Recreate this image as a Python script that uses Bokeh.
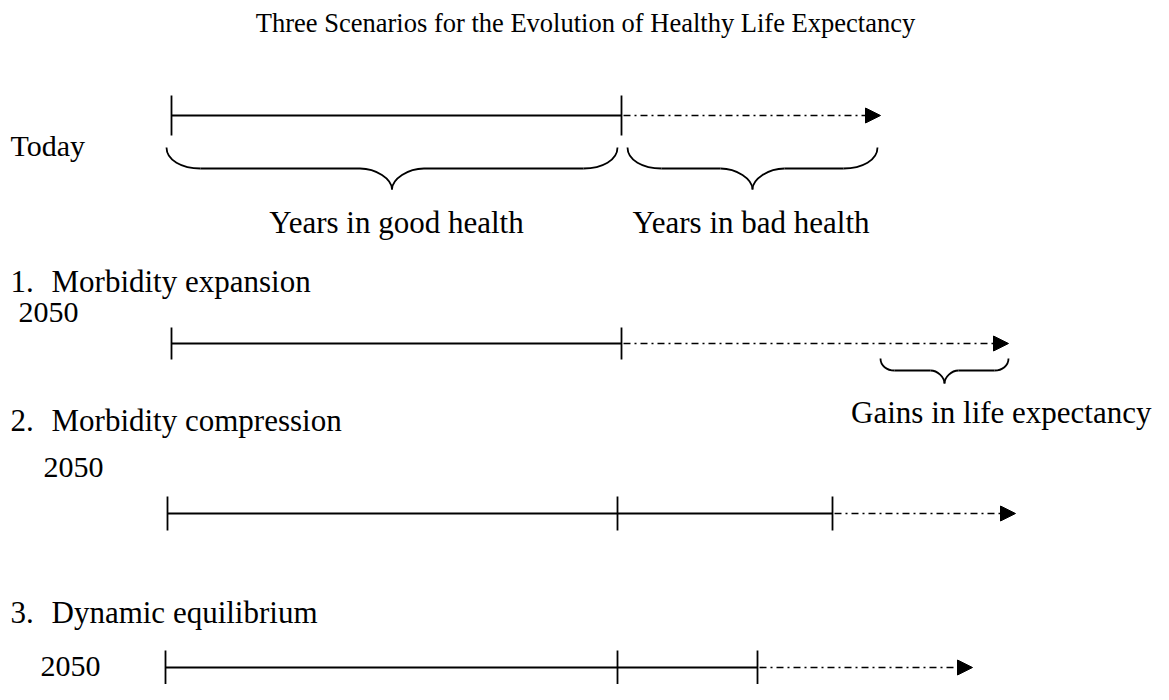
from bokeh.plotting import figure
from bokeh.models import Range1d, Arrow, NormalHead, ColumnDataSource
from bokeh.core.properties import value
from bokeh.embed import file_html
from bokeh.resources import INLINE

# ---- data (schematic units, 0 = birth) ----
title = "Three Scenarios for the Evolution of Healthy Life Expectancy"
row_tags = ["Today", "2050", "2050", "2050"]
line_start = [0, 0, -4, -6]
healthy_today = [450, 450, 446, 446]
healthy_end = [450, 450, 661, 586]
life_end = [709, 837, 844, 801]
scenario_nums = ["1.", "2.", "3."]
scenario_names = ["Morbidity expansion", "Morbidity compression", "Dynamic equilibrium"]
brace_labels = ["Years in good health", "Years in bad health", "Gains in life expectancy"]

# ---- layout ----
W, H = 1153, 684
ORIGIN = 171  # picture x of schematic 0
row_y = [115, 343, 513, 667]
tick_half = [20, 16, 17, 17]

p = figure(width=W, height=H, output_backend="svg", toolbar_location=None,
           x_range=Range1d(-ORIGIN, W - ORIGIN), y_range=Range1d(H, 0),
           min_border=0, outline_line_color=None)
p.xaxis.visible = False
p.yaxis.visible = False
p.xgrid.visible = False
p.ygrid.visible = False
p.background_fill_color = "white"
p.border_fill_color = "white"

FONT = value("Liberation Serif")
LW = 1.8

def txt(x, y, s, size, align="left"):
    p.text(x=[x], y=[y], text=[s], text_font=FONT, text_font_size=f"{size}px",
           text_align=align, text_baseline="middle", text_color="black")

txt(585 - ORIGIN, 22, title, 26.5, "center")

# ---- timelines ----
for i in range(4):
    y = row_y[i]
    s, ht, he, le = line_start[i], healthy_today[i], healthy_end[i], life_end[i]
    p.line([s, he], [y, y], line_color="black", line_width=LW)
    ticks = sorted(set([s, ht, he]))
    p.segment(x0=ticks, y0=[y - tick_half[i]] * len(ticks),
              x1=ticks, y1=[y + tick_half[i]] * len(ticks),
              line_color="black", line_width=LW)
    src = ColumnDataSource(dict(xs=[he + 2], ys=[y], xe=[le], ye=[y]))
    p.add_layout(Arrow(end=NormalHead(size=15, fill_color="black", line_color="black", line_width=1),
                       x_start="xs", y_start="ys", x_end="xe", y_end="ye", source=src,
                       line_color="black", line_width=1.6, line_dash="7 4 2 4"))

# ---- braces ----
bz = dict(x0=[], y0=[], x1=[], y1=[], cx0=[], cy0=[], cx1=[], cy1=[])
segs = dict(x0=[], y0=[], x1=[], y1=[])

def brace(a, b, ytop, yflat, ytip, r_end, r_mid):
    mid = (a + b) / 2
    k = 0.5
    curves = [
        (a, ytop, a + r_end, yflat, a, ytop + 0.6 * (yflat - ytop), a + r_end * 0.45, yflat),
        (b, ytop, b - r_end, yflat, b, ytop + 0.6 * (yflat - ytop), b - r_end * 0.45, yflat),
        (mid - r_mid, yflat, mid, ytip, mid - r_mid * (1 - k), yflat, mid, yflat + k * (ytip - yflat)),
        (mid + r_mid, yflat, mid, ytip, mid + r_mid * (1 - k), yflat, mid, yflat + k * (ytip - yflat)),
    ]
    for c in curves:
        for key, v in zip(["x0", "y0", "x1", "y1", "cx0", "cy0", "cx1", "cy1"], c):
            bz[key].append(v)
    for (u, v) in [(a + r_end, mid - r_mid), (mid + r_mid, b - r_end)]:
        segs["x0"].append(u); segs["y0"].append(yflat)
        segs["x1"].append(v); segs["y1"].append(yflat)

brace(line_start[0] - 5, healthy_end[0] - 4, 147, 168, 189, 34, 32)
brace(healthy_end[0] + 6, life_end[0] - 3, 147, 168, 189, 34, 32)
brace(life_end[0], life_end[1], 358, 370, 383, 14, 14)

p.bezier(source=ColumnDataSource(bz), x0="x0", y0="y0", x1="x1", y1="y1",
         cx0="cx0", cy0="cy0", cx1="cx1", cy1="cy1", line_color="black", line_width=LW)
p.segment(source=ColumnDataSource(segs), x0="x0", y0="y0", x1="x1", y1="y1",
          line_color="black", line_width=LW)

# ---- labels ----
FS = 30
FL = 31
txt(10 - ORIGIN, 145, row_tags[0], FS)
txt((line_start[0] + healthy_end[0]) / 2, 222, brace_labels[0], FL, "center")
txt((healthy_end[0] + life_end[0]) / 2, 222, brace_labels[1], FL, "center")
txt(1151 - ORIGIN, 412, brace_labels[2], FL, "right")

label_y = [281, 420, 612]
label_x = [10, 10, 10]
year_y = [312, 467, 666]
year_x = [18, 43, 40]
for j in range(3):
    txt(label_x[j] - ORIGIN, label_y[j], scenario_nums[j], FL)
    txt(label_x[j] + 41 - ORIGIN, label_y[j], scenario_names[j], FL)
    txt(year_x[j] - ORIGIN, year_y[j], row_tags[j + 1], FS)

open("out.html", "w").write(file_html(p, INLINE))
